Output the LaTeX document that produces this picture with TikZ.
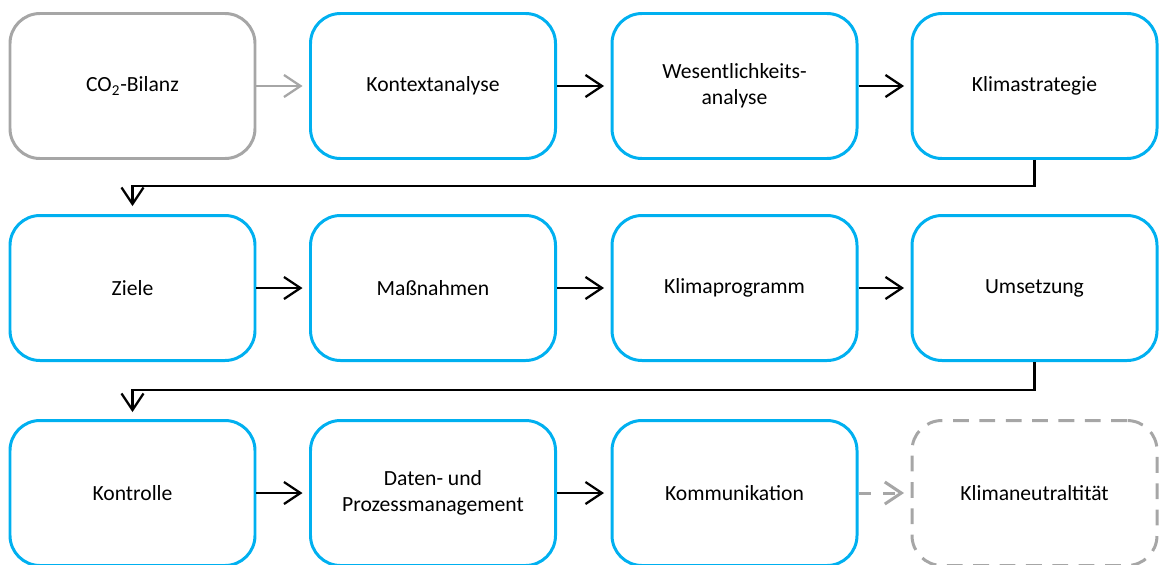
\documentclass[tikz,border=0pt]{standalone}
\usepackage{fontspec}
\setmainfont{Carlito}
\usetikzlibrary{arrows.meta}
\definecolor{stepblue}{HTML}{00B0F0}
\definecolor{stepgray}{HTML}{A6A6A6}
\tikzset{
    stepbox/.style = {draw = stepblue, line width = 1.7pt, rounded corners = 0.6cm, minimum width = 4.9cm, minimum height = 2.9cm, align = center, font = \fontsize{12.3}{14.8}\selectfont},
    graybox/.style = {stepbox, draw = stepgray},
    flow/.style = {-{Straight Barb[length = 3.3mm, width = 4.4mm]}, line width = 1.3pt, shorten > = 0.13cm}
}
\begin{document}
\begin{tikzpicture}[scale = 1]
                            \useasboundingbox (0,0) rectangle (23.18,-11.28);
                            \node[graybox] (co2) at (2.65,-1.72) {CO\textsubscript{2}-Bilanz};
                            \node[stepbox] (kontext) at (8.66,-1.72) {Kontextanalyse};
                            \node[stepbox] (wesentlich) at (14.69,-1.72) {Wesentlichkeits-\\analyse};
                            \node[stepbox] (strategie) at (20.69,-1.72) {Klimastrategie};

                            \node[stepbox] (ziele) at (2.65,-5.76) {Ziele};
                            \node[stepbox] (massnahmen) at (8.66,-5.76) {Maßnahmen};
                            \node[stepbox] (programm) at (14.69,-5.76) {Klimaprogramm};
                            \node[stepbox] (umsetzung) at (20.69,-5.76) {Umsetzung};

                            \node[stepbox] (kontrolle) at (2.65,-9.86) {Kontrolle};
                            \node[stepbox] (daten) at (8.66,-9.86) {Daten- und\\Prozessmanagement};
                            \node[stepbox] (kommunikation) at (14.69,-9.86) {Kommunikation};
                            \node[graybox, dashed, dash pattern = on 9pt off 6pt] (neutral) at (20.69,-9.86) {Klimaneutraltität};

                            \draw[flow, stepgray] (co2) -- (kontext);
                            \draw[flow] (kontext) -- (wesentlich);
                            \draw[flow] (wesentlich) -- (strategie);
                            \draw[flow, shorten > = 0.16cm] (strategie.south) -- ++(0,-0.52) -| (ziele.north);

                            \draw[flow] (ziele) -- (massnahmen);
                            \draw[flow] (massnahmen) -- (programm);
                            \draw[flow] (programm) -- (umsetzung);
                            \draw[flow, shorten > = 0.14cm] (umsetzung.south) -- ++(0,-0.56) -| (kontrolle.north);

                            \draw[flow] (kontrolle) -- (daten);
                            \draw[flow] (daten) -- (kommunikation);
                            \draw[flow, stepgray, line width = 1.7pt, dash pattern = on 7pt off 7pt] (kommunikation) -- (neutral);
                        \end{tikzpicture}
\end{document}
